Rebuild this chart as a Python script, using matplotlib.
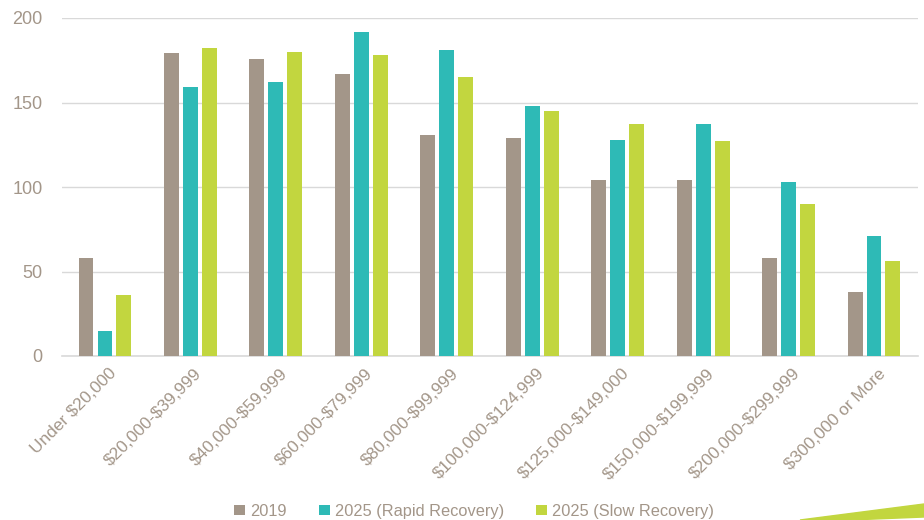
import numpy as np
import matplotlib
matplotlib.use('Agg')
import matplotlib.pyplot as plt
from matplotlib.patches import Polygon

categories = ['Under $20,000', '$20,000-$39,999', '$40,000-$59,999', '$60,000-$79,999',
              '$80,000-$99,999', '$100,000-$124,999', '$125,000-$149,000',
              '$150,000-$199,999', '$200,000-$299,999', '$300,000 or More']
v2019 = [58, 179, 176, 167, 131, 129, 104, 104, 58, 38]
v2025_rapid = [15, 159, 162, 192, 181, 148, 128, 137, 103, 71]
v2025_slow = [36, 182, 180, 178, 165, 145, 137, 127, 90, 56]
series_names = ['2019', '2025 (Rapid Recovery)', '2025 (Slow Recovery)']

c_gray = '#A39689'
c_teal = '#2EBAB6'
c_lime = '#C2D63F'
txt = '#A39689'

plt.rcParams['font.family'] = ['Liberation Sans', 'DejaVu Sans']
plt.rcParams['text.parse_math'] = False

fig = plt.figure(figsize=(9.24, 5.2), dpi=100)
ax = fig.add_axes([62/924, 1-356/520, (918-62)/924, (356-18)/520])

x = np.arange(len(categories))
bw = 0.175
off = 0.222
ax.bar(x - off, v2019, width=bw, color=c_gray, label=series_names[0], zorder=3)
ax.bar(x, v2025_rapid, width=bw, color=c_teal, label=series_names[1], zorder=3)
ax.bar(x + off, v2025_slow, width=bw, color=c_lime, label=series_names[2], zorder=3)

ax.set_ylim(0, 200)
ax.set_yticks([0, 50, 100, 150, 200])
ax.set_xlim(-0.503, 9.515)
ax.grid(axis='y', color='#D9D9D9', linewidth=1, zorder=0)
for s in ['top', 'right', 'left']:
    ax.spines[s].set_visible(False)
ax.spines['bottom'].set_color('#D9D9D9')
ax.spines['bottom'].set_linewidth(1.2)
ax.tick_params(axis='y', length=0, colors=txt, labelsize=13, pad=14)
ax.tick_params(axis='x', length=0, colors=txt, labelsize=12.4, pad=7)
ax.set_xticks(x)
ax.set_xticklabels(categories, rotation=45, ha='right', rotation_mode='anchor')
offset = matplotlib.transforms.ScaledTranslation(0.04, 0, fig.dpi_scale_trans)
for lab in ax.xaxis.get_majorticklabels():
    lab.set_transform(lab.get_transform() + offset)

leg = fig.legend(loc='lower center', bbox_to_anchor=(0.513, -0.026), ncol=3, frameon=False,
                 fontsize=11.8, handlelength=0.65, handleheight=0.65, handletextpad=0.3,
                 columnspacing=2.0, labelcolor=txt)

# green swoosh in the corner
fig.patches.append(Polygon([(800/924, 0), (924/924, 16/520), (924/924, 3/520), (850/924, 0)],
                           closed=True, transform=fig.transFigure, color=c_lime, zorder=0))

plt.savefig('out.png', dpi=100)
